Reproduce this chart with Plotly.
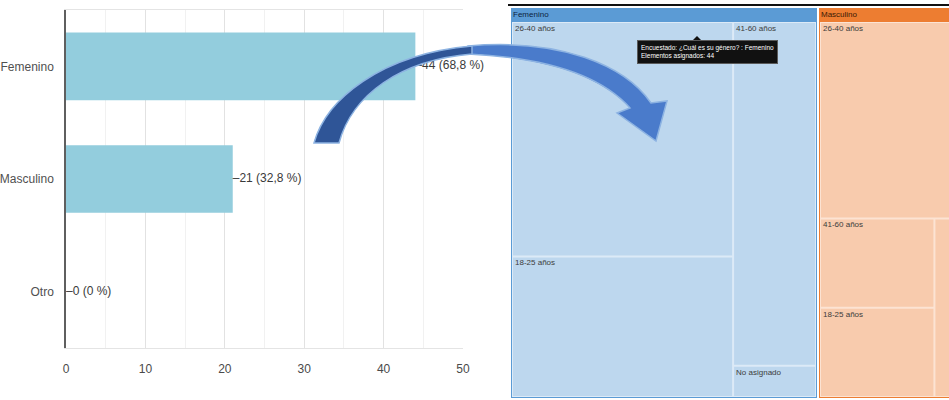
import plotly.graph_objects as go

# ---- survey answers: "¿Cuál es su género?" ----
categories = ["Femenino", "Masculino", "Otro"]
counts = [44, 21, 0]
respondents = 64
x_ticks = [0, 10, 20, 30, 40, 50]

# ---- treemap: gender -> age group ----
parent_names = ["Femenino", "Masculino"]
fem_groups = ["26-40 años", "18-25 años", "41-60 años", "No asignado"]
fem_values = [20, 12, 11, 1]
masc_groups = ["26-40 años", "41-60 años", "18-25 años", "No asignado"]
masc_values = [11, 4, 4, 2]

tooltip_text = "Encuestado: ¿Cuál es su género? : Femenino<br>Elementos asignados: 44"

W, H = 949, 400
FONT = "Liberation Sans, Arial, sans-serif"

BAR_COLOR = "#93CDDD"
HEADER_COLORS = ["#5B9BD5", "#ED7D31"]
CELL_COLORS = ["#BDD7EE", "#F8CBAD"]
GAP_COLORS = ["#DCEAF7", "#FCE3D3"]
LABEL_MIN_WIDTH = 40  # cells narrower than this get no label


def px(x):
    return x / W


def py(y):
    return 1 - y / H


def pct_label(v):
    p = f"{v / respondents * 100:.1f}".rstrip("0").rstrip(".")
    return f"\u2013{v} ({p.replace('.', ',')} %)"


fig = go.Figure()

# ---------------- horizontal bar chart ----------------
fig.add_trace(go.Bar(
    x=counts, y=categories, orientation="h", width=0.6,
    marker=dict(color=BAR_COLOR, line=dict(width=0)),
    hoverinfo="skip", xaxis="x", yaxis="y", showlegend=False,
))
fig.add_trace(go.Scatter(
    x=counts, y=categories, mode="text",
    text=[pct_label(v) for v in counts], textposition="middle right",
    textfont=dict(family=FONT, size=12, color="#3a3a3a"),
    hoverinfo="skip", xaxis="x", yaxis="y", showlegend=False, cliponaxis=False,
))

# ---------------- treemap (slice layout from the values) ----------------
TM_X0, TM_W = 2.0, 455.0
TM_Y0, TM_H = 2.0, 390.0
HEADER = 14.0


def node_total(node, vals):
    if isinstance(node, int):
        return vals[node]
    return sum(node_total(n, vals) for n in node)


def tile(node, vals, x0, y0, x1, y1, axis, out):
    if isinstance(node, int):
        out[node] = (x0, y0, x1, y1)
        return
    nxt = "y" if axis == "x" else "x"
    tot = sum(node_total(n, vals) for n in node)
    pos = x0 if axis == "x" else y0
    span = (x1 - x0) if axis == "x" else (y1 - y0)
    for n in node:
        step = span * node_total(n, vals) / tot
        if axis == "x":
            tile(n, vals, pos, y0, pos + step, y1, nxt, out)
        else:
            tile(n, vals, x0, pos, x1, pos + step, nxt, out)
        pos += step


# grouping of the cells into strips for each gender block
groupings = [([[0, 1], [2, 3]], "x"), ([[0], [[1, 2], [3]]], "y")]
groups = [fem_groups, masc_groups]
values = [fem_values, masc_values]

parent_totals = [sum(v) for v in values]
parent_boxes = {}
tile([0, 1], parent_totals, TM_X0, TM_Y0, TM_X0 + TM_W, TM_Y0 + TM_H, "x", parent_boxes)


def rect_trace(x0, y0, x1, y1, color):
    return go.Scatter(
        x=[x0, x1, x1, x0, x0], y=[y0, y0, y1, y1, y0],
        mode="lines", fill="toself", fillcolor=color,
        line=dict(width=0, color=color), hoverinfo="skip",
        xaxis="x2", yaxis="y2", showlegend=False,
    )


label_x, label_y, label_t = [], [], []
for i, name in enumerate(parent_names):
    x0, y0, x1, y1 = parent_boxes[i]
    x0 += 1
    x1 -= 1
    fig.add_trace(rect_trace(x0, y0, x1, y1, HEADER_COLORS[i]))
    fig.add_trace(rect_trace(x0 + 1, y0 + HEADER, x1 - 1, y1 - 1, GAP_COLORS[i]))
    fig.add_trace(go.Scatter(
        x=[x0 + 2], y=[y0 + HEADER / 2], mode="text", text=[name],
        textposition="middle right",
        textfont=dict(family=FONT, size=8, color="#3b1a05" if i else "#0d2340"),
        hoverinfo="skip", xaxis="x2", yaxis="y2", showlegend=False,
    ))
    cells = {}
    layout_tree, first_axis = groupings[i]
    tile(layout_tree, values[i], x0 + 1, y0 + HEADER, x1 - 1, y1 - 1, first_axis, cells)
    for j, lab in enumerate(groups[i]):
        cx0, cy0, cx1, cy1 = cells[j]
        fig.add_trace(rect_trace(cx0 + 1, cy0 + 1, cx1 - 1, cy1 - 1, CELL_COLORS[i]))
        if cx1 - cx0 >= LABEL_MIN_WIDTH:
            label_x.append(cx0 + 3)
            label_y.append(cy0 + 3)
            label_t.append(lab)

fig.add_trace(go.Scatter(
    x=label_x, y=label_y, mode="text", text=label_t, textposition="bottom right",
    textfont=dict(family=FONT, size=8, color="#3c3c3c"),
    hoverinfo="skip", xaxis="x2", yaxis="y2", showlegend=False,
))

# ---------------- axes ----------------
fig.update_layout(
    width=W, height=H, autosize=False,
    margin=dict(l=0, r=0, t=0, b=0),
    paper_bgcolor="white", plot_bgcolor="white",
    xaxis=dict(
        domain=[px(66), px(463)], range=[0, 50], tickvals=x_ticks,
        showgrid=True, gridcolor="#E2E2E2", gridwidth=1,
        minor=dict(dtick=5, showgrid=True, gridcolor="#F1F1F1"),
        showline=True, linecolor="#E4E4E4", mirror=True, zeroline=False,
        ticks="", ticklabelstandoff=10, automargin=False,
        tickfont=dict(family=FONT, size=12, color="#4a4a4a"),
        fixedrange=True,
    ),
    yaxis=dict(
        domain=[py(348), py(10)], range=[2.5, -0.5],
        categoryorder="array", categoryarray=categories,
        showgrid=False, showline=True, linecolor="#5f5f5f", linewidth=1.5,
        ticks="", ticklabelstandoff=8, automargin=False,
        tickfont=dict(family=FONT, size=12, color="#505050"),
        fixedrange=True,
    ),
    xaxis2=dict(
        domain=[px(508), 1], range=[0, 441], visible=False, fixedrange=True,
        automargin=False,
    ),
    yaxis2=dict(
        domain=[0, py(6)], range=[394, 0], visible=False, fixedrange=True,
        automargin=False,
    ),
)

# window edge above the treemap
fig.add_shape(type="line", xref="paper", yref="paper",
              x0=px(508), x1=1, y0=py(5), y1=py(5),
              line=dict(color="#111111", width=2))

# tooltip box over the Femenino block
fig.add_annotation(
    xref="paper", yref="paper", x=px(637), y=py(40), xanchor="left", yanchor="top",
    text=tooltip_text, showarrow=False, align="left",
    font=dict(family=FONT, size=6.5, color="white"),
    bgcolor="#111111", bordercolor="#5a5a5a", borderwidth=1, borderpad=3,
)
fig.add_shape(type="path", xref="paper", yref="paper",
              path=f"M {px(693)},{py(40)} L {px(697)},{py(36)} L {px(701)},{py(40)} Z",
              fillcolor="#111111", line=dict(width=0))


# curved arrow linking the bar chart to the treemap
def pt(p):
    return f"{px(p[0])},{py(p[1])}"


def curve(c1, c2, end):
    return f"C {pt(c1)} {pt(c2)} {pt(end)}"


def lines(points):
    return " ".join(f"L {pt(p)}" for p in points)


left_part = (
    f"M {pt((314, 143))} {curve((326, 100), (380, 54), (472, 46))} "
    f"{lines([(472, 54)])} {curve((400, 60), (352, 95), (339, 143))} Z"
)
right_part = (
    f"M {pt((468, 46))} {curve((560, 38), (625, 65), (651, 103))} "
    f"{lines([(667, 101), (656, 141), (617, 113), (630, 108)])} "
    f"{curve((605, 80), (555, 58), (468, 54))} Z"
)
fig.add_shape(type="path", xref="paper", yref="paper", path=right_part,
              fillcolor="#4A7BCB", line=dict(color="#8DB3E2", width=1.5), layer="above")
fig.add_shape(type="path", xref="paper", yref="paper", path=left_part,
              fillcolor="#2F5597", line=dict(color="#8DB3E2", width=1.5), layer="above")

fig.write_html("out.html")
